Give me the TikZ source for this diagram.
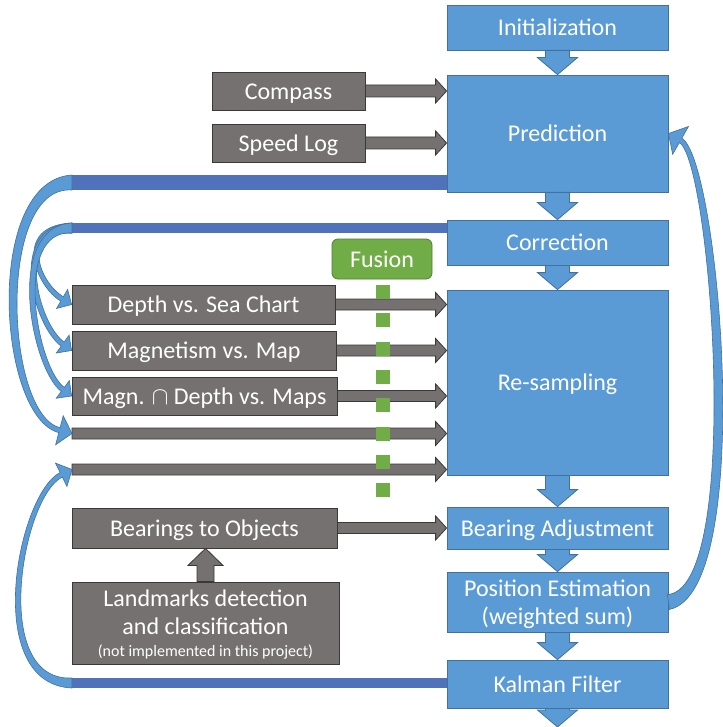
\documentclass[tikz,border=0pt]{standalone}
\usepackage{fontspec}
\setmainfont{Carlito}
\usetikzlibrary{positioning, calc, arrows.meta}

\definecolor{stepblue}{HTML}{5B9BD5}
\definecolor{stepedge}{HTML}{41719C}
\definecolor{barblue}{HTML}{4F72BB}
\definecolor{sensgray}{HTML}{767171}
\definecolor{sensedge}{HTML}{3B3838}
\definecolor{fusegreen}{HTML}{70AD47}
\definecolor{fuseedge}{HTML}{507E32}

\tikzset{
  oneline/.style={text height=22.8pt, text depth=6.5pt},
  stepbox/.style={draw=stepedge, fill=stepblue, text=white, minimum width=221pt, inner sep=0pt, align=center, line width=0.8pt, oneline},
  sensbox/.style={draw=sensedge, fill=sensgray, text=white, inner sep=0pt, align=center, line width=0.8pt, oneline},
  fusebox/.style={draw=fuseedge, fill=fusegreen, text=white, rounded corners=6pt, inner sep=0pt, line width=0.8pt, oneline},
  twolines/.style={text height={}, text depth=0pt},
  stepflow/.style={draw=stepedge, fill=stepblue, line width=0.8pt},
  sensflow/.style={draw=sensedge, fill=sensgray, line width=0.8pt},
  bent/.style={draw=stepedge, fill=stepblue, line width=0.6pt},
  feedbar/.style={barblue}
}

% straight block arrow: [style]{from}{to}{shaft half width}{head half width}{head length}
\newcommand{\blockarrow}[6][sensflow]{%
  \path ($(#3)!#6!(#2)$) coordinate (ab);
  \filldraw[#1] ($(#2)!#4!90:(#3)$) -- ($(ab)!#4!90:(#3)$) -- ($(ab)!#5!90:(#3)$)
    -- (#3) -- ($(ab)!#5!-90:(#3)$) -- ($(ab)!#4!-90:(#3)$) -- ($(#2)!#4!-90:(#3)$) -- cycle;}

% tapered curved arrow: {from}{ctrl1}{ctrl2}{tip}{start half width}{head length}{head half width}
\newcommand{\bentarrow}[7]{%
  \path ($(#1)!0.9*#5!90:(#3)$) coordinate (o1) ($(#1)!0.9*#5!-90:(#3)$) coordinate (i1)
        ($(#2)!0.55*#5!90:(#4)$) coordinate (o2) ($(#2)!0.55*#5!-90:(#4)$) coordinate (i2)
        ($(#4)!#6!(#3)$) coordinate (hb);
  \filldraw[bent] ($(#1)!#5!90:(#2)$) .. controls ($(#2)+(o1)-(#1)$) and ($(#3)+(o2)-(#2)$) .. ($(hb)!2.5pt!90:(#4)$)
    -- ($(hb)!#7!90:(#4)$) -- (#4) -- ($(hb)!#7!-90:(#4)$) -- ($(hb)!2.5pt!-90:(#4)$)
    .. controls ($(#3)+(i2)-(#2)$) and ($(#2)+(i1)-(#1)$) .. ($(#1)!#5!-90:(#2)$) -- cycle;}

\begin{document}
\begin{tikzpicture}[x=1pt, y=-1pt, font=\fontsize{24}{28}\selectfont]
    \useasboundingbox (0,0) rectangle (722,727);

    % filter steps
    \node[stepbox, minimum height=45pt] (init) at (557.5,27.5) {Initialization};
    \node[stepbox, minimum height=117pt] (pred) at (557.5,133.5) {Prediction};
    \node[stepbox, minimum height=45pt] (corr) at (557.5,242.5) {Correction};
    \node[stepbox, minimum height=185pt] (resamp) at (557.5,382.5) {Re-sampling};
    \node[stepbox, minimum height=42pt] (bearadj) at (557.5,528) {Bearing Adjustment};
    \node[stepbox, twolines, minimum height=60pt] (posest) at (557.5,602) {Position Estimation\\(weighted sum)};
    \node[stepbox, minimum height=48pt] (kalman) at (557.5,684) {Kalman Filter};
    \coordinate (exit) at (557.5,727);

    % sensors and measurements
    \node[sensbox, minimum width=153pt, minimum height=38pt] (compass) at (288.5,91) {Compass};
    \node[sensbox, minimum width=153pt, minimum height=38pt] (speedlog) at (288.5,143) {Speed Log};
    \node[sensbox, minimum width=263pt, minimum height=39pt] (depth) at (203.5,304.5) {Depth vs. Sea Chart};
    \node[sensbox, minimum width=264pt, minimum height=39pt] (magn) at (204,350.5) {Magnetism vs. Map};
    \node[sensbox, minimum width=265pt, minimum height=38pt] (magdep) at (204.5,396) {Magn. $\cap$ Depth vs. Maps};
    \node[sensbox, minimum width=265pt, minimum height=40pt] (bearings) at (204.5,528) {Bearings to Objects};
    \node[sensbox, twolines, minimum width=267pt, minimum height=82pt] (landmarks) at (205.5,623)
        {Landmarks detection\\and classification\\[-6pt]{\fontsize{16}{19}\selectfont (not implemented in this project)}};
    \node[fusebox, minimum width=100pt, minimum height=40pt] (fusion) at (382,259) {Fusion};

    \coordinate (fbA) at (72,182.5);
    \coordinate (fbB) at (72,228);
    \coordinate (fbC) at (72,683);
    \coordinate (thin1) at (72,433.5);
    \coordinate (thin2) at (72,469.5);
    \coordinate (fusetop) at (383,285);
    \coordinate (fusebot) at (383,497);

    % main flow
    \blockarrow[stepflow]{init.south}{pred.north}{12pt}{20pt}{17pt}
    \blockarrow[stepflow]{pred.south}{corr.north}{12pt}{20pt}{17pt}
    \blockarrow[stepflow]{corr.south}{resamp.north}{12pt}{20pt}{17pt}
    \blockarrow[stepflow]{resamp.south}{bearadj.north}{12pt}{20pt}{17pt}
    \blockarrow[stepflow]{bearadj.south}{posest.north}{12pt}{20pt}{17pt}
    \blockarrow[stepflow]{posest.south}{kalman.north}{12pt}{20pt}{17pt}
    \blockarrow[stepflow]{kalman.south}{exit}{12pt}{20pt}{17pt}

    % inputs
    \blockarrow{compass.east}{compass.east -| pred.west}{6pt}{12pt}{11pt}
    \blockarrow{speedlog.east}{speedlog.east -| pred.west}{6pt}{12pt}{11pt}
    \blockarrow{depth.east}{depth.east -| resamp.west}{5.5pt}{12pt}{11pt}
    \blockarrow{magn.east}{magn.east -| resamp.west}{5.5pt}{12pt}{11pt}
    \blockarrow{magdep.east}{magdep.east -| resamp.west}{5.5pt}{12pt}{11pt}
    \blockarrow{thin1}{thin1 -| resamp.west}{5.5pt}{12pt}{11pt}
    \blockarrow{thin2}{thin2 -| resamp.west}{5.5pt}{12pt}{11pt}
    \blockarrow{bearings.east}{bearings.east -| bearadj.west}{5.5pt}{12pt}{11pt}
    \blockarrow{landmarks.north}{landmarks.north |- bearings.south}{8.5pt}{17.5pt}{17pt}

    % feedback
    \draw[feedbar, line width=15pt] (fbA) -- (fbA -| pred.west);
    \draw[feedbar, line width=10pt] (fbB) -- (fbB -| corr.west);
    \draw[feedbar, line width=10pt] (fbC) -- (fbC -| kalman.west);
    \bentarrow{fbA}{-10,182.5}{1,415}{thin1}{7.5pt}{13pt}{15pt}
    \bentarrow{fbB}{15,228}{38,285}{depth.west}{5pt}{11pt}{11pt}
    \bentarrow{fbB}{10,228}{36,325}{magn.west}{5pt}{11pt}{11pt}
    \bentarrow{fbB}{8,228}{34,368}{magdep.west}{5pt}{11pt}{11pt}
    \bentarrow{fbC}{-15,683}{20,495}{thin2}{5pt}{12pt}{13pt}
    \bentarrow{posest.east}{750,590}{715,160}{pred.east}{7.5pt}{14pt}{16pt}

    \draw[fusegreen, line width=14pt, dash pattern=on 14pt off 14.3pt] (fusetop) -- (fusebot);
\end{tikzpicture}
\end{document}
